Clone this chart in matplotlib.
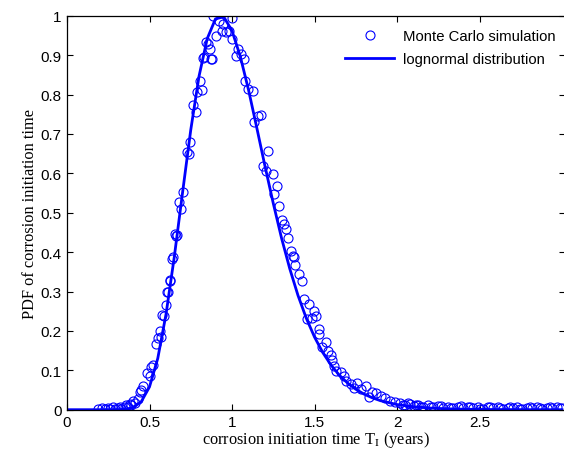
import numpy as np
import matplotlib
matplotlib.use('Agg')
import matplotlib.pyplot as plt

# lognormal fit
curve_x = [0, 0.1, 0.2, 0.25, 0.3, 0.35, 0.4, 0.45, 0.5, 0.55, 0.6, 0.65, 0.7, 0.75,
           0.8, 0.85, 0.9, 0.95, 1.0, 1.05, 1.1, 1.15, 1.2, 1.25, 1.3, 1.35, 1.4,
           1.45, 1.5, 1.55, 1.6, 1.65, 1.7, 1.75, 1.8, 1.85, 1.9, 2.0, 2.1, 2.2,
           2.3, 2.4, 2.5, 2.6, 2.8, 3.0]
curve_y = [0, 0, 0, 0, 0.0001, 0.0009, 0.0052, 0.0203, 0.058, 0.13, 0.242, 0.387,
           0.55, 0.71, 0.846, 0.942, 0.992, 0.997, 0.962, 0.897, 0.812, 0.716,
           0.618, 0.524, 0.436, 0.358, 0.29, 0.2325, 0.1845, 0.1452, 0.1133,
           0.0879, 0.0678, 0.052, 0.0397, 0.0302, 0.0229, 0.0131, 0.0074, 0.0042,
           0.0023, 0.0013, 0.0007, 0.0004, 0.0001, 0.0]

# Monte Carlo histogram points
mc_x = [0.19, 0.21, 0.23, 0.25, 0.26, 0.28, 0.29, 0.31, 0.32, 0.33, 0.35, 0.36,
        0.37, 0.38, 0.39, 0.40, 0.41, 0.43, 0.44, 0.45, 0.46, 0.485, 0.50, 0.51,
        0.52, 0.538, 0.552, 0.566, 0.568, 0.578, 0.585, 0.598, 0.606, 0.61, 0.622,
        0.626, 0.639, 0.642, 0.653, 0.659, 0.665, 0.679, 0.693, 0.703, 0.727,
        0.737, 0.747, 0.763, 0.779, 0.787, 0.804, 0.818, 0.824, 0.828, 0.844,
        0.854, 0.864, 0.874, 0.878, 0.884, 0.905, 0.924, 0.94, 0.945, 0.965, 0.98,
        0.999, 1.003, 1.025, 1.035, 1.055, 1.075, 1.08, 1.096, 1.126, 1.136,
        1.156, 1.176, 1.19, 1.207, 1.22, 1.247, 1.257, 1.273, 1.287, 1.301,
        1.317, 1.329, 1.341, 1.357, 1.368, 1.378, 1.384, 1.408, 1.424, 1.438,
        1.452, 1.468, 1.485, 1.498, 1.509, 1.525, 1.529, 1.545, 1.569, 1.579,
        1.599, 1.609, 1.619, 1.63, 1.66, 1.68, 1.69, 1.72, 1.74, 1.76, 1.78,
        1.81, 1.83, 1.85, 1.87, 1.90, 1.93, 1.96, 1.99,
        2.02, 2.035, 2.05, 2.065, 2.08, 2.1, 2.115, 2.13, 2.145, 2.16, 2.19,
        2.205, 2.22, 2.25, 2.265, 2.28, 2.31, 2.325, 2.34, 2.37, 2.385, 2.40,
        2.43, 2.445, 2.46, 2.49, 2.505, 2.52, 2.55, 2.565, 2.58, 2.61, 2.625,
        2.64, 2.67, 2.685, 2.70, 2.73, 2.745, 2.76, 2.79, 2.805, 2.82, 2.85,
        2.865, 2.88, 2.91, 2.925, 2.94, 2.97, 2.985, 3.0]
mc_y = [0.003, 0.004, 0.002, 0.005, 0.003, 0.006, 0.002, 0.004, 0.007, 0.003,
        0.008, 0.011, 0.006, 0.015, 0.012, 0.022, 0.018, 0.027, 0.046, 0.05,
        0.061, 0.093, 0.085, 0.108, 0.113, 0.167, 0.181, 0.2, 0.184, 0.24, 0.238,
        0.266, 0.298, 0.3, 0.326, 0.328, 0.382, 0.387, 0.446, 0.442, 0.443,
        0.528, 0.509, 0.553, 0.655, 0.649, 0.68, 0.773, 0.756, 0.807, 0.833,
        0.812, 0.892, 0.894, 0.932, 0.928, 0.915, 0.89, 0.89, 1.0, 0.949, 0.987,
        0.962, 0.979, 0.958, 0.962, 0.994, 0.941, 0.898, 0.915, 0.903, 0.89,
        0.835, 0.814, 0.81, 0.729, 0.745, 0.748, 0.619, 0.607, 0.657, 0.597,
        0.547, 0.567, 0.516, 0.482, 0.471, 0.459, 0.435, 0.404, 0.389, 0.387,
        0.366, 0.344, 0.327, 0.281, 0.23, 0.268, 0.234, 0.251, 0.237, 0.205,
        0.192, 0.158, 0.171, 0.15, 0.139, 0.127, 0.112, 0.099, 0.095, 0.086,
        0.074, 0.065, 0.054, 0.068, 0.053, 0.061, 0.031, 0.045, 0.042, 0.036,
        0.029, 0.023, 0.02,
        0.017, 0.013, 0.012, 0.016, 0.015, 0.009, 0.012, 0.013, 0.008, 0.007,
        0.011, 0.006, 0.006, 0.009, 0.010, 0.005, 0.008, 0.004, 0.004, 0.007,
        0.009, 0.005, 0.008, 0.006, 0.004, 0.006, 0.003, 0.003, 0.006, 0.007,
        0.004, 0.007, 0.004, 0.003, 0.005, 0.006, 0.004, 0.006, 0.003, 0.003,
        0.005, 0.007, 0.004, 0.006, 0.004, 0.003, 0.005, 0.006, 0.004, 0.006,
        0.005, 0.004]

xtick_vals = [0, 0.5, 1, 1.5, 2, 2.5]
xtick_labels = ['0', '0.5', '1', '1.5', '2', '2.5']
ytick_vals = [0, 0.1, 0.2, 0.3, 0.4, 0.5, 0.6, 0.7, 0.8, 0.9, 1]
ytick_labels = ['0', '0.1', '0.2', '0.3', '0.4', '0.5', '0.6', '0.7', '0.8', '0.9', '1']

plt.rcParams['font.family'] = ['Liberation Sans', 'DejaVu Sans']
plt.rcParams['mathtext.fontset'] = 'stix'

W, H = 564, 456
fig = plt.figure(figsize=(W / 100, H / 100), dpi=100)
# axes in pixel terms: left 67, right ~565 (cut off), top 16.7, bottom 410.7
left, right, top, bottom = 67, 565, 16.7, 410.7
ax = fig.add_axes([left / W, (H - bottom) / H, (right - left) / W, (bottom - top) / H])

blue = '#0000ff'
ax.plot(mc_x, mc_y, 'o', markersize=6.5, markerfacecolor='none',
        markeredgecolor=blue, markeredgewidth=0.8, label='Monte Carlo simulation')
ax.plot(curve_x, curve_y, '-', color=blue, linewidth=2.0, label='lognormal distribution')

ax.set_xlim(0, (right - left) / 165.0)
ax.set_ylim(0, 1)
ax.set_xticks(xtick_vals)
ax.set_xticklabels(xtick_labels)
ax.set_yticks(ytick_vals)
ax.set_yticklabels(ytick_labels)
ax.tick_params(direction='in', length=4, width=0.8, top=True, right=True,
               labelsize=11, pad=4)
for s in ax.spines.values():
    s.set_linewidth(0.9)

serif = {'family': ['Liberation Serif', 'DejaVu Serif'], 'size': 11.8}
ax.set_xlabel(r'corrosion initiation time T$_{\mathrm{I}}$ (years)', fontdict=serif, labelpad=0)
ax.set_ylabel('PDF of corrosion initiation time', fontdict=serif, labelpad=2)

leg = ax.legend(loc='upper left', bbox_to_anchor=((345 - left) / (right - left), (bottom - 30) / (bottom - top)),
                frameon=False, fontsize=10.7, handlelength=3.3, handletextpad=0.6,
                borderpad=0, borderaxespad=0, labelspacing=0.6)

plt.savefig('out.png', dpi=100)
